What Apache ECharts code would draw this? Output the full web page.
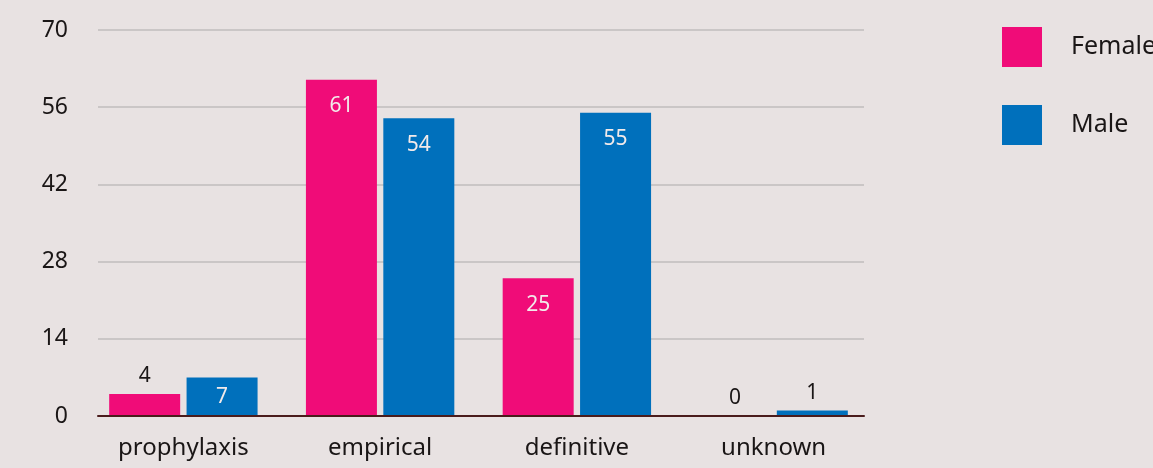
<!DOCTYPE html>
<html>
<head>
<meta charset="utf-8">
<style>
  html, body { margin: 0; padding: 0; background: #e8e2e2; }
  #chart { width: 1153px; height: 468px; }
</style>
<script src="https://cdn.jsdelivr.net/npm/echarts@6/dist/echarts.min.js"></script>
</head>
<body>
<div id="chart"></div>
<script>
// Treatment purpose by sex
const categories = ['prophylaxis', 'empirical', 'definitive', 'unknown'];
const female = [4, 61, 25, 0];
const male = [7, 54, 55, 1];
const yTicks = [0, 14, 28, 42, 56, 70];

const FONT = '"Noto Sans", "Open Sans", sans-serif';
const PINK = '#f00c78';
const BLUE = '#0070bc';
const INK = '#1a1616';

// Put the value inside the bar when there is room, above it otherwise
function labelled(values) {
  return values.map(v => {
    let label;
    if (v > 20) {
      label = { position: 'insideTop', distance: 16, color: '#f2eaea' };
    } else if (v >= 6) {
      label = { position: 'inside', color: '#f2eaea' };
    } else {
      label = { position: 'top', distance: 7, color: INK };
    }
    return { value: v, label: label };
  });
}

const chart = echarts.init(document.getElementById('chart'), null, { renderer: 'canvas' });

chart.setOption({
  backgroundColor: '#e8e2e2',
  animation: false,
  textStyle: { fontFamily: FONT },
  legend: {
    orient: 'vertical',
    left: 1002,
    top: 27,
    padding: 0,
    itemWidth: 40,
    itemHeight: 40,
    itemGap: 38,
    icon: 'rect',
    textStyle: { fontSize: 25, color: INK, fontFamily: FONT, padding: [0, 0, 0, 24] },
    data: ['Female', 'Male']
  },
  grid: [
    // axes, gridlines and baseline
    { left: 98, right: 289, top: 30, bottom: 52 },
    // bars and category labels
    { left: 85, right: 281, top: 30, bottom: 52 }
  ],
  xAxis: [
    {
      gridIndex: 0,
      type: 'category',
      data: categories,
      axisLine: { show: true, lineStyle: { color: '#4a1c1c', width: 2 } },
      axisTick: { show: false },
      axisLabel: { show: false },
      z: 5
    },
    {
      gridIndex: 1,
      type: 'category',
      data: categories,
      axisLine: { show: false },
      axisTick: { show: false },
      axisLabel: { fontSize: 24, color: INK, fontFamily: FONT, margin: 20 }
    }
  ],
  yAxis: [
    {
      gridIndex: 0,
      type: 'value',
      min: yTicks[0],
      max: yTicks[yTicks.length - 1],
      interval: yTicks[1] - yTicks[0],
      axisLine: { show: false },
      axisTick: { show: false },
      axisLabel: { fontSize: 23, color: INK, fontFamily: FONT, margin: 30 },
      splitLine: { lineStyle: { color: '#c0bcbc', width: 1.5 } }
    },
    {
      gridIndex: 1,
      type: 'value',
      min: yTicks[0],
      max: yTicks[yTicks.length - 1],
      interval: yTicks[1] - yTicks[0],
      show: false,
      splitLine: { show: false }
    }
  ],
  series: [
    {
      name: 'Female',
      type: 'bar',
      xAxisIndex: 1,
      yAxisIndex: 1,
      barWidth: 71,
      barGap: '9%',
      itemStyle: { color: PINK },
      label: { show: true, fontSize: 21, fontFamily: FONT },
      data: labelled(female)
    },
    {
      name: 'Male',
      type: 'bar',
      xAxisIndex: 1,
      yAxisIndex: 1,
      barWidth: 71,
      barGap: '9%',
      itemStyle: { color: BLUE },
      label: { show: true, fontSize: 21, fontFamily: FONT },
      data: labelled(male)
    }
  ]
});
</script>
</body>
</html>
